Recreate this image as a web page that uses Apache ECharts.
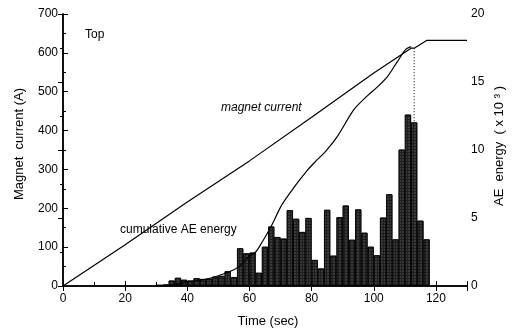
<!DOCTYPE html>
<html>
<head>
<meta charset="utf-8">
<script src="https://cdn.jsdelivr.net/npm/echarts@6/dist/echarts.min.js"></script>
<style>
  html, body { margin: 0; padding: 0; background: #fff; }
  #chart { width: 518px; height: 330px; }
</style>
</head>
<body>
<div id="chart"></div>
<script>
// AE histogram, 2 s bins (bin centres)
const binTime = [31, 33, 35, 37, 39, 41, 43, 45, 47, 49, 51, 53, 55, 57, 59, 61, 63, 65, 67, 69,
  71, 73, 75, 77, 79, 81, 83, 85, 87, 89, 91, 93, 95, 97, 99, 101, 103, 105, 107, 109,
  111, 113, 115, 117]
const binCounts = [3, 4, 14, 21, 16, 14, 20, 18, 19, 24, 26, 38, 23, 97, 84, 86, 34, 101, 153, 126,
  122, 195, 173, 139, 175, 67, 45, 196, 78, 177, 207, 119, 197, 137, 101, 79, 176, 236, 120, 351,
  441, 421, 168, 120]

// magnet current (A)
const magnetTime = [0, 20, 40, 60, 80, 100, 112, 113, 117, 130]
const magnetCurrent = [0, 106, 216, 322, 434, 548, 612, 612, 632, 632]

// cumulative AE energy (x 10^3)
const cumTime = [30, 35, 40, 45, 50, 55, 57, 60, 62, 64, 67, 70.5, 74.5, 78.6, 81, 84.5, 88.3,
  93.7, 98, 101, 104.4, 107.6, 110.3, 112]
const cumEnergy = [0, 0.07, 0.3, 0.45, 0.75, 1.2, 1.5, 2.2, 2.5, 3.2, 4.4, 6.0, 7.3, 8.5, 9.1, 9.9,
  11.0, 13.0, 14.0, 14.6, 15.4, 16.5, 17.4, 17.6]

// dotted marker at end of AE record
const quenchTime = 113
const quenchFrom = 612
const quenchTo = 421

const font = 'Liberation Sans, Arial, sans-serif'

const pair = (xs, ys) => xs.map((x, i) => [x, ys[i]])

const chart = echarts.init(document.getElementById('chart'))

const axisLine = { lineStyle: { color: '#000', width: 1.5 } }

let option = {
	animation: false,
	aria: { enabled: true, decal: { show: true } },
	grid: { left: 63, right: 51, top: 14, bottom: 44 },
	xAxis: [
		{
			type: 'value',
			min: 0,
			max: 130,
			interval: 20,
			position: 'bottom',
			axisLine: axisLine,
			axisTick: { inside: true, length: 5, lineStyle: { color: '#000' } },
			minorTick: { show: true, splitNumber: 2, length: 4, lineStyle: { color: '#000' } },
			axisLabel: { color: '#000', fontSize: 12, fontFamily: font, margin: 7, showMaxLabel: false },
			splitLine: { show: false },
		},
		{
			type: 'value',
			min: 0,
			max: 130,
			interval: 20,
			position: 'top',
			axisLine: axisLine,
			axisTick: { inside: true, length: 5, lineStyle: { color: '#000' } },
			axisLabel: { show: false },
			splitLine: { show: false },
		},
	],
	yAxis: [
		{
			type: 'value',
			min: 0,
			max: 700,
			interval: 100,
			position: 'left',
			axisLine: axisLine,
			axisTick: { inside: true, length: 5, lineStyle: { color: '#000' } },
			minorTick: { show: true, splitNumber: 2, length: 3, lineStyle: { color: '#000' } },
			axisLabel: { color: '#000', fontSize: 12, fontFamily: font, margin: 5 },
			splitLine: { show: false },
		},
		{
			type: 'value',
			min: 0,
			max: 20,
			interval: 5,
			position: 'right',
			axisLine: axisLine,
			axisTick: { inside: true, length: 5, lineStyle: { color: '#000' } },
			minorTick: { show: true, splitNumber: 2, length: 3, lineStyle: { color: '#000' } },
			axisLabel: { color: '#000', fontSize: 12, fontFamily: font, margin: 4 },
			splitLine: { show: false },
		},
	],
	series: [
		{
			name: 'AE',
			type: 'bar',
			xAxisIndex: 0,
			yAxisIndex: 0,
			barWidth: 6.2,
			data: pair(binTime, binCounts),
			itemStyle: {
				color: '#1e1e1e',
				borderColor: '#000',
				borderWidth: 0.8,
				decal: {
					symbol: 'rect',
					symbolSize: 0.5,
					color: 'rgba(255,255,255,0.5)',
					dashArrayX: [2, 1],
					dashArrayY: [2, 1],
					rotation: 0,
				},
			},
		},
		{
			name: 'magnet current',
			type: 'line',
			xAxisIndex: 0,
			yAxisIndex: 0,
			data: pair(magnetTime, magnetCurrent),
			showSymbol: false,
			lineStyle: { color: '#000', width: 1.2 },
			z: 5,
		},
		{
			name: 'cumulative AE energy',
			type: 'line',
			xAxisIndex: 0,
			yAxisIndex: 1,
			data: pair(cumTime, cumEnergy),
			showSymbol: false,
			smooth: 0.3,
			lineStyle: { color: '#000', width: 1.2 },
			z: 5,
		},
		{
			name: 'end',
			type: 'line',
			xAxisIndex: 0,
			yAxisIndex: 0,
			data: [[quenchTime, quenchFrom], [quenchTime, quenchTo]],
			showSymbol: false,
			lineStyle: { color: '#000', width: 1, type: [1, 2] },
			z: 5,
		},
	],
	graphic: [
		{
			type: 'text', x: 85, y: 35,
			style: { text: 'Top', font: '12px ' + font, fill: '#000', verticalAlign: 'middle' },
		},
		{
			type: 'text', x: 221, y: 108,
			style: { text: 'magnet current', font: 'italic 12px ' + font, fill: '#000', verticalAlign: 'middle' },
		},
		{
			type: 'text', x: 120, y: 230,
			style: { text: 'cumulative AE energy', font: '12px ' + font, fill: '#000', verticalAlign: 'middle' },
		},
		{
			type: 'text', x: 268, y: 321,
			style: { text: 'Time (sec)', font: '13px ' + font, fill: '#000', align: 'center', verticalAlign: 'middle' },
		},
		{
			type: 'text', x: 19, y: 144, rotation: Math.PI / 2,
			style: { text: 'Magnet  current (A)', font: '13px ' + font, fill: '#000', align: 'center', verticalAlign: 'middle' },
		},
		{
			type: 'text', x: 499, y: 146, rotation: Math.PI / 2,
			style: { text: 'AE  energy  ( x 10 ³ )', font: '13px ' + font, fill: '#000', align: 'center', verticalAlign: 'middle' },
		},
	],
}

chart.setOption(option)
</script>
</body>
</html>
